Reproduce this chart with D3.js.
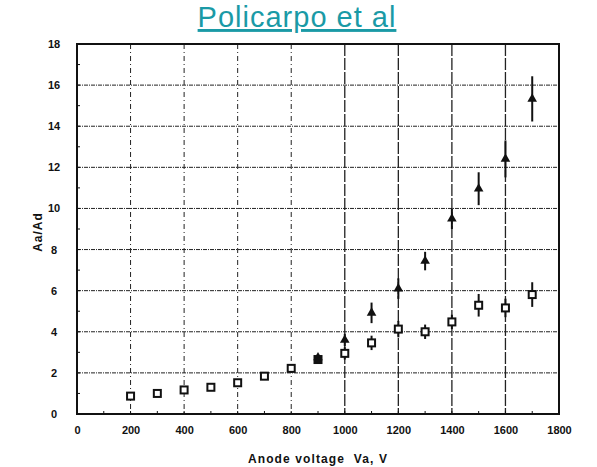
<!DOCTYPE html>
<html>
<head>
<meta charset="utf-8">
<script src="https://cdn.jsdelivr.net/npm/d3@7"></script>
<style>
  html, body { margin: 0; padding: 0; background: #fff; }
  svg { display: block; }
</style>
</head>
<body>
<svg id="chart" width="597" height="467"></svg>
<script>
// Anode voltage (V) for the open-square series
const squareVoltage = [200, 300, 400, 500, 600, 700, 800, 900, 1000, 1100, 1200, 1300, 1400, 1500, 1600, 1700];
const squareRatio   = [0.87, 1.0, 1.17, 1.3, 1.52, 1.84, 2.22, 2.65, 2.95, 3.46, 4.13, 4.0, 4.48, 5.29, 5.16, 5.81];
const squareError   = [0, 0, 0, 0, 0, 0, 0, 0.2, 0.3, 0.35, 0.4, 0.35, 0.35, 0.55, 0.45, 0.6];

// Anode voltage (V) for the filled-triangle series
const triangleVoltage = [900, 1000, 1100, 1200, 1300, 1400, 1500, 1600, 1700];
const triangleRatio   = [2.75, 3.6, 4.92, 6.1, 7.44, 9.5, 10.96, 12.41, 15.33];
const triangleError   = [0.15, 0.3, 0.5, 0.5, 0.45, 0.5, 0.8, 0.9, 1.1];

const xTicks = [0, 200, 400, 600, 800, 1000, 1200, 1400, 1600, 1800];
const yTicks = [0, 2, 4, 6, 8, 10, 12, 14, 16, 18];

const svg = d3.select("#chart");
const plotLeft = 77, plotRight = 559, plotTop = 44, plotBottom = 414;

const x = d3.scaleLinear().domain([0, 1800]).range([plotLeft, plotRight]);
const y = d3.scaleLinear().domain([0, 18]).range([plotBottom, plotTop]);

// Title
svg.append("text")
  .attr("x", 297).attr("y", 27)
  .attr("text-anchor", "middle")
  .attr("font-family", "Liberation Sans, Arial, sans-serif")
  .attr("font-size", 29)
  .attr("letter-spacing", 1)
  .attr("fill", "#1a9aa6")
  .attr("text-decoration", "underline")
  .text("Policarpo et al");

// Grid
const grid = svg.append("g");
grid.selectAll("line.h").data(yTicks.filter(d => d > 0 && d < 18)).join("line")
  .attr("x1", plotLeft).attr("x2", plotRight)
  .attr("y1", d => y(d)).attr("y2", d => y(d))
  .attr("stroke", "#222").attr("stroke-width", 1)
  .attr("stroke-dasharray", "4,1,1,1");
grid.selectAll("line.v").data(xTicks.filter(d => d > 0 && d < 1800)).join("line")
  .attr("x1", d => x(d)).attr("x2", d => x(d))
  .attr("y1", plotTop).attr("y2", plotBottom)
  .attr("stroke", "#222")
  .attr("stroke-width", d => d >= 1000 ? 1.3 : 1)
  .attr("stroke-dasharray", d => d >= 1000 ? "12,2" : "5,3,1,3");

// Axes
const axisFont = "Liberation Sans, Arial, sans-serif";
const xAxis = svg.append("g").attr("transform", `translate(0,${plotBottom})`)
  .call(d3.axisBottom(x).tickValues(xTicks).tickSize(0).tickPadding(12).tickFormat(d3.format("d")));
const yAxis = svg.append("g").attr("transform", `translate(${plotLeft},0)`)
  .call(d3.axisLeft(y).tickValues(yTicks).tickSize(0).tickPadding(23).tickFormat(d3.format("d")));
[xAxis, yAxis].forEach(g => {
  g.select(".domain").remove();
  g.selectAll("text").attr("font-family", axisFont).attr("font-size", 11)
    .attr("font-weight", "bold").attr("fill", "#111");
});
yAxis.selectAll("text").attr("text-anchor", "middle");

// Minor ticks
svg.append("g").selectAll("line").data(d3.range(1, 18, 1)).join("line")
  .attr("x1", plotLeft).attr("x2", plotLeft + 3)
  .attr("y1", d => y(d)).attr("y2", d => y(d))
  .attr("stroke", "#111");
svg.append("g").selectAll("line").data(d3.range(100, 1800, 100)).join("line")
  .attr("x1", d => x(d)).attr("x2", d => x(d))
  .attr("y1", plotBottom).attr("y2", plotBottom - 3)
  .attr("stroke", "#111");

// Frame
svg.append("rect")
  .attr("x", plotLeft).attr("y", plotTop)
  .attr("width", plotRight - plotLeft).attr("height", plotBottom - plotTop)
  .attr("fill", "none").attr("stroke", "#111").attr("stroke-width", 2);

// Axis titles
svg.append("text")
  .attr("transform", "translate(42,232) rotate(-90)")
  .attr("text-anchor", "middle")
  .attr("font-family", axisFont).attr("font-size", 12).attr("font-weight", "bold")
  .attr("letter-spacing", 1)
  .attr("fill", "#111")
  .text("Aa/Ad");
svg.append("text")
  .attr("x", 318).attr("y", 463)
  .attr("text-anchor", "middle")
  .attr("font-family", axisFont).attr("font-size", 12).attr("font-weight", "bold")
  .attr("letter-spacing", 1.1)
  .attr("fill", "#111")
  .attr("xml:space", "preserve")
  .text("Anode voltage  Va, V");

// Series data
const squares = squareVoltage.map((v, i) => ({ v, r: squareRatio[i], e: squareError[i] }));
const triangles = triangleVoltage.map((v, i) => ({ v, r: triangleRatio[i], e: triangleError[i] }));

// Error bars
const marks = svg.append("g");
marks.selectAll("line.et").data(triangles.filter(d => d.e > 0)).join("line")
  .attr("x1", d => x(d.v)).attr("x2", d => x(d.v))
  .attr("y1", d => y(d.r - d.e)).attr("y2", d => y(d.r + d.e))
  .attr("stroke", "#111").attr("stroke-width", 2);
marks.selectAll("line.es").data(squares.filter(d => d.e > 0)).join("line")
  .attr("x1", d => x(d.v)).attr("x2", d => x(d.v))
  .attr("y1", d => y(d.r - d.e)).attr("y2", d => y(d.r + d.e))
  .attr("stroke", "#111").attr("stroke-width", 2);

// Filled triangles
const tri = d3.symbol().type(d3.symbolTriangle).size(40);
marks.selectAll("path.tri").data(triangles).join("path")
  .attr("transform", d => `translate(${x(d.v)},${y(d.r)})`)
  .attr("d", tri)
  .attr("fill", "#111");

// Open squares
marks.selectAll("rect.sq").data(squares).join("rect")
  .attr("x", d => x(d.v) - 3.5).attr("y", d => y(d.r) - 3.5)
  .attr("width", 7).attr("height", 7)
  .attr("fill", d => d.v === 900 ? "#111" : "#fff")
  .attr("stroke", "#111").attr("stroke-width", 2);
</script>
</body>
</html>
